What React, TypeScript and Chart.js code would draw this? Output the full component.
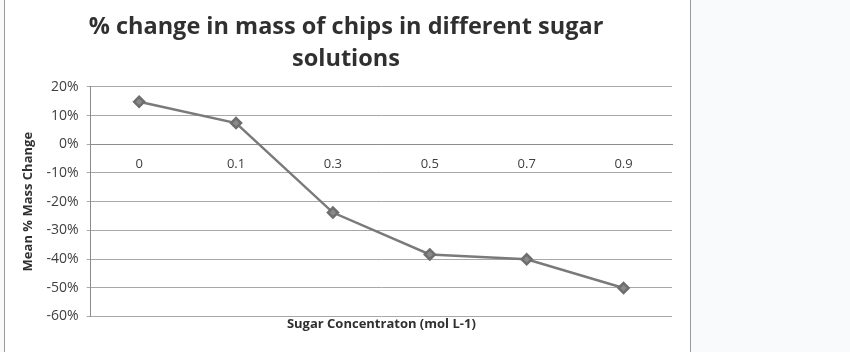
import React, { useEffect, useRef } from "react";
import { Chart, registerables } from "chart.js";

Chart.register(...registerables);

const concentrations = ["0", "0.1", "0.3", "0.5", "0.7", "0.9"];
const meanMassChange = [14.8, 7.4, -23.8, -38.4, -40.1, -50.1];
const titleLines = ["% change in mass of chips in different sugar", "solutions"];
const xTitle = "Sugar Concentraton (mol L-1)";
const yTitle = "Mean % Mass Change";

export default function App() {
  const ref = useRef<HTMLCanvasElement | null>(null);
  useEffect(() => {
    if (!ref.current) return;
    const chart = new Chart(ref.current, {
      type: "line",
      data: {
        labels: concentrations,
        datasets: [
          {
            data: meanMassChange,
            borderColor: "#7a7a7a",
            backgroundColor: "#7a7a7a",
            borderWidth: 2.5,
            pointStyle: "rectRot",
            pointRadius: 5,
            pointBorderColor: "#6e6e6e",
            pointBackgroundColor: "#8a8a8a",
            tension: 0,
          },
        ],
      },
      options: {
        animation: false,
        responsive: false,
        layout: { padding: { left: 20, right: 178, top: 9, bottom: 20 } },
        plugins: {
          legend: { display: false },
          tooltip: { enabled: false },
          title: {
            display: true,
            text: titleLines,
            color: "#303030",
            font: { family: "'Open Sans', sans-serif", size: 23.5, weight: "bold", lineHeight: 1.36 },
            padding: { top: 2, bottom: 12 },
          },
        },
        scales: {
          x: {
            type: "category",
            offset: true,
            position: { y: 0 },
            grid: { display: false, drawTicks: false },
            border: { display: true, color: "#8c8c8c" },
            ticks: {
              color: "#404040",
              font: { family: "'Open Sans', sans-serif", size: 13 },
              padding: 12,
            },
          },
          x2: {
            type: "category",
            position: "bottom",
            offset: true,
            grid: { display: false, drawTicks: false },
            border: { display: false },
            ticks: { display: false },
            title: {
              display: true,
              text: xTitle,
              color: "#303030",
              font: { family: "'Open Sans', sans-serif", size: 13, weight: "bold" },
              padding: { top: 0, bottom: 0 },
            },
          },
          y: {
            min: -60,
            max: 20,
            ticks: {
              stepSize: 10,
              color: "#404040",
              font: { family: "'Open Sans', sans-serif", size: 14 },
              callback: (v: any) => `${v}%`,
              padding: 8,
            },
            grid: { color: "#a8a8a8", lineWidth: 1, tickLength: 4 },
            border: { display: true, color: "#8c8c8c" },
            title: {
              display: true,
              text: yTitle,
              color: "#303030",
              font: { family: "'Open Sans', sans-serif", size: 13, weight: "bold" },
              padding: { top: 0, bottom: 3 },
            },
          },
        },
      },
    });
    return () => chart.destroy();
  }, []);

  return (
    <div style={{ position: "fixed", left: 0, top: 0, width: 850, height: 352, background: "#f8fafc", overflow: "hidden" }}>
      <div
        style={{
          position: "absolute",
          left: 4,
          top: -2,
          width: 685,
          height: 370,
          background: "#ffffff",
          border: "1px solid #9a9a9a",
        }}
      />
      <canvas ref={ref} width={850} height={352} style={{ position: "absolute", left: 0, top: 0 }} />
    </div>
  );
}
